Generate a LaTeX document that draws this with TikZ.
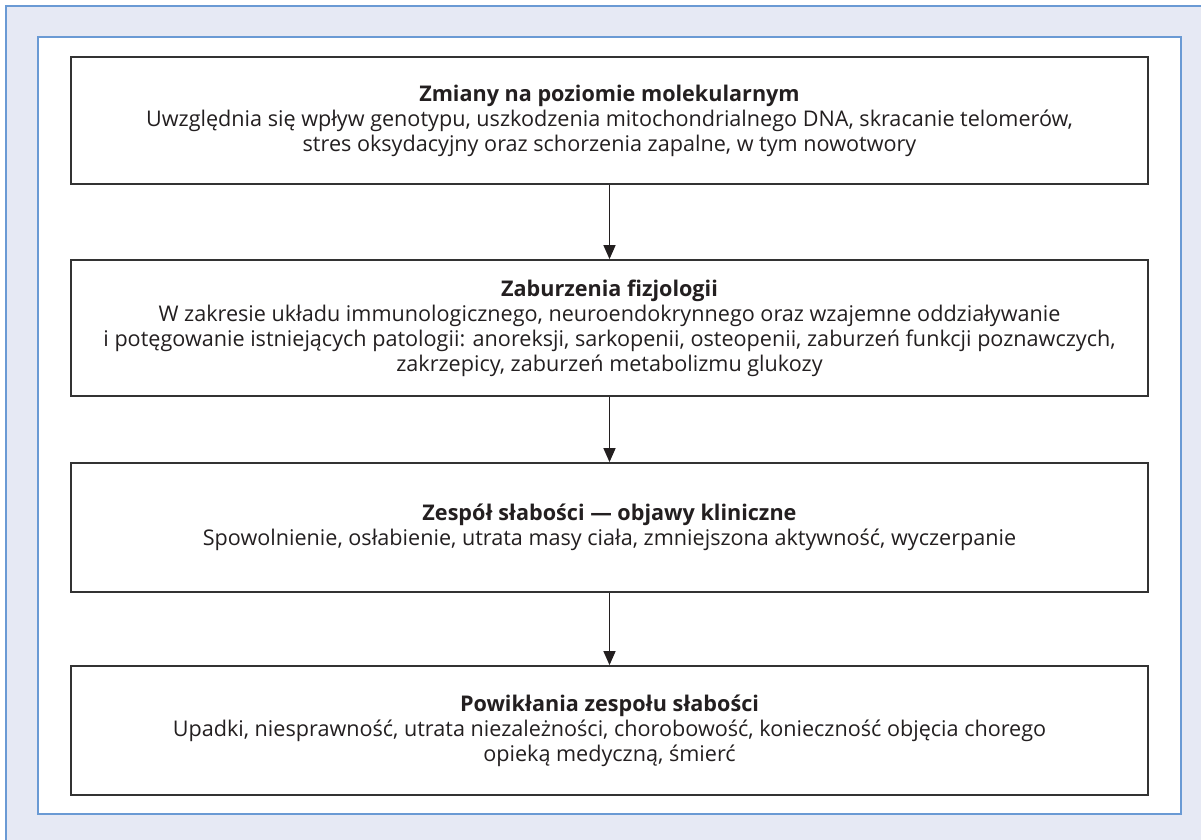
\documentclass[tikz,border=0pt]{standalone}
\usepackage{fontspec}
\setmainfont{Open Sans}
\usetikzlibrary{arrows.meta}
\definecolor{bgfill}{HTML}{E6E9F4}
\definecolor{bluebd}{HTML}{6A9AD4}
\definecolor{txt}{HTML}{231F20}
\definecolor{boxbd}{HTML}{333333}
\tikzset{
  stagebox/.style={draw=boxbd, line width=1.8pt, fill=white, rectangle,
    minimum width=1077pt, inner sep=0pt, align=center, text=txt,
    font=\fontsize{21.6}{25}\selectfont},
  flowarrow/.style={draw=txt, line width=1.4pt, -{Triangle[length=14pt,width=12pt]}}
}
\begin{document}
\begin{tikzpicture}[x=1pt,y=1pt]
\useasboundingbox (0,0) rectangle (1201,-839);
\begin{scope}
\clip (0,0) rectangle (1201,-839);
\draw[bluebd, fill=bgfill, line width=1.5pt] (6,-6) rectangle (1215,-850);
\end{scope}
\draw[bluebd, fill=white, line width=1.5pt] (38,-37) rectangle (1181,-814);

\node[stagebox, minimum height=127pt] (b1) at (609.5,-120.5)
 {\textbf{Zmiany na poziomie molekularnym}\\
  Uwzględnia się wpływ genotypu, uszkodzenia mitochondrialnego DNA, skracanie telomerów,\\
  stres oksydacyjny oraz schorzenia zapalne, w tym nowotwory};
\node[stagebox, minimum height=136pt] (b2) at (609.5,-328)
 {\textbf{Zaburzenia fizjologii}\\
  W zakresie układu immunologicznego, neuroendokrynnego oraz wzajemne oddziaływanie\\
  i potęgowanie istniejących patologii: anoreksji, sarkopenii, osteopenii, zaburzeń funkcji poznawczych,\\
  zakrzepicy, zaburzeń metabolizmu glukozy};
\node[stagebox, minimum height=129pt] (b3) at (609.5,-527.5)
 {\textbf{Zespół słabości — objawy kliniczne}\\
  Spowolnienie, osłabienie, utrata masy ciała, zmniejszona aktywność, wyczerpanie};
\node[stagebox, minimum height=129pt] (b4) at (609.5,-730.5)
 {\textbf{Powikłania zespołu słabości}\\
  Upadki, niesprawność, utrata niezależności, chorobowość, konieczność objęcia chorego\\
  opieką medyczną, śmierć};

\draw[flowarrow] (b1.south) -- (b2.north);
\draw[flowarrow] (b2.south) -- (b3.north);
\draw[flowarrow] (b3.south) -- (b4.north);
\end{tikzpicture}
\end{document}
